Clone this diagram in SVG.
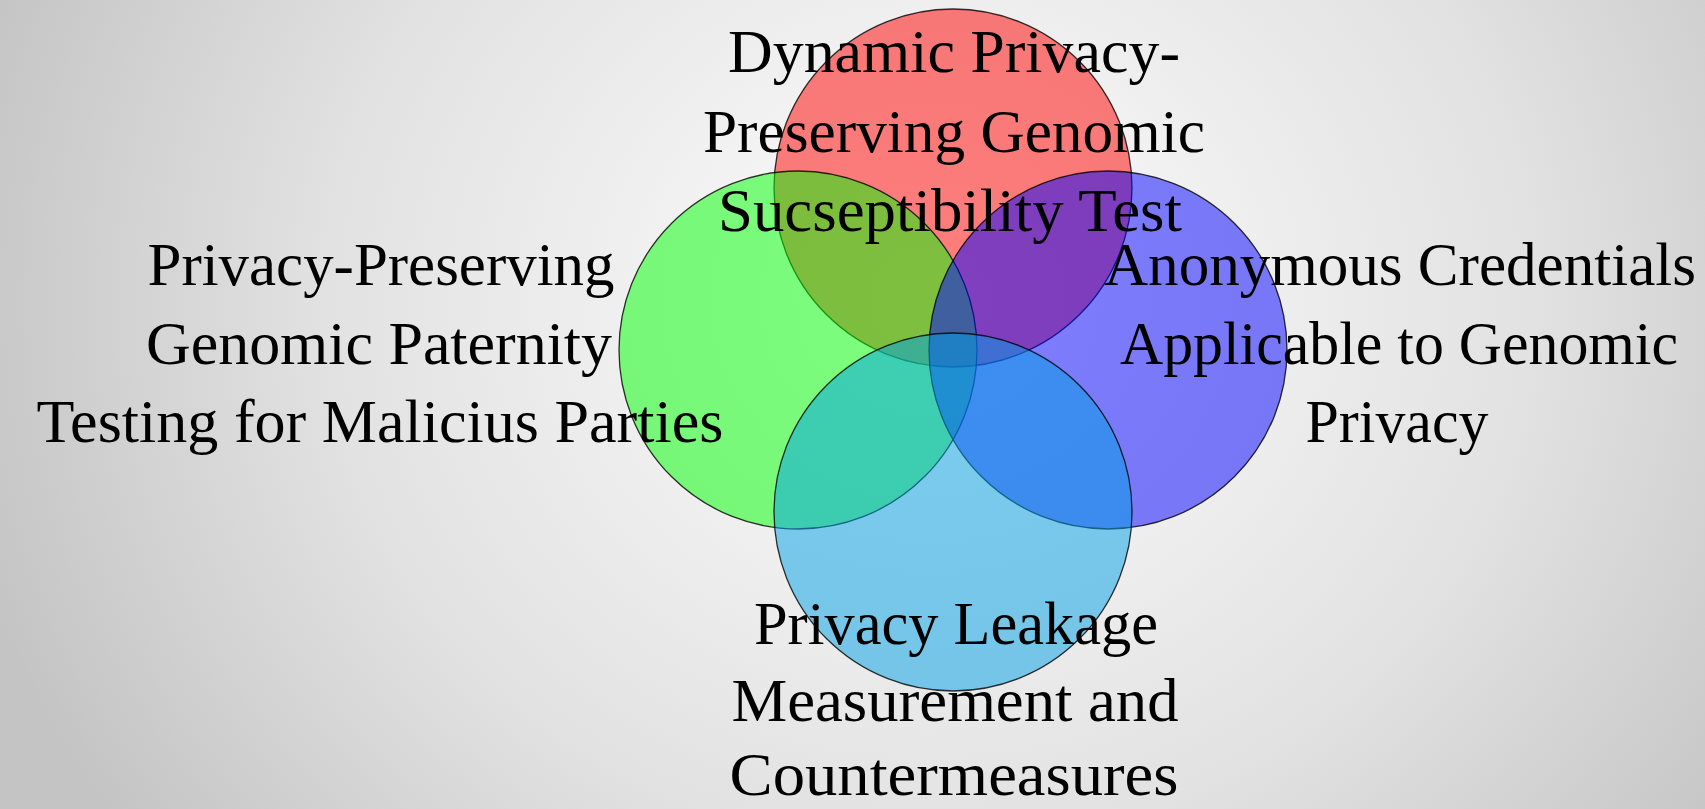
<svg xmlns="http://www.w3.org/2000/svg" width="1705" height="809" viewBox="0 0 1705 809">
  <defs>
    <radialGradient id="bg" gradientUnits="userSpaceOnUse" cx="930" cy="300" r="1000" gradientTransform="translate(930 300) scale(1 0.9) translate(-930 -300)">
      <stop offset="0" stop-color="#ffffff"/>
      <stop offset="0.12" stop-color="#f8f8f8"/>
      <stop offset="0.6" stop-color="#e2e2e2"/>
      <stop offset="1" stop-color="#c4c4c4"/>
    </radialGradient>
  </defs>
  <style>
    .set { fill-opacity: 0.5; stroke: #000; stroke-opacity: 0.8; stroke-width: 1.3; }
    .lbl { font-family: "Liberation Serif", "DejaVu Serif", serif; font-size: 62px; fill: #000; text-anchor: middle; }
  </style>

  <rect x="0" y="0" width="1705" height="809" fill="url(#bg)"/>

  <!-- four overlapping sets -->
  <g id="set-susceptibility"><circle class="set" cx="953" cy="188" r="179" fill="#ff0000"/></g>
  <g id="set-paternity"><circle class="set" cx="798" cy="350" r="179" fill="#00ff00"/></g>
  <g id="set-credentials"><circle class="set" cx="1108" cy="350" r="179" fill="#0000ff"/></g>
  <g id="set-leakage"><circle class="set" cx="953" cy="512" r="179" fill="#00a0e6"/></g>

  <!-- set captions -->
  <g id="label-susceptibility" class="lbl">
    <text x="954" y="72" textLength="452" lengthAdjust="spacingAndGlyphs">Dynamic Privacy-</text>
    <text x="954" y="152" textLength="502" lengthAdjust="spacingAndGlyphs">Preserving Genomic</text>
    <text x="950" y="231" textLength="464" lengthAdjust="spacingAndGlyphs">Sucseptibility Test</text>
  </g>
  <g id="label-paternity" class="lbl">
    <text x="381" y="285" textLength="467" lengthAdjust="spacingAndGlyphs">Privacy-Preserving</text>
    <text x="379" y="364" textLength="466" lengthAdjust="spacingAndGlyphs">Genomic Paternity</text>
    <text x="380" y="442" textLength="687" lengthAdjust="spacingAndGlyphs">Testing for Malicius Parties</text>
  </g>
  <g id="label-credentials" class="lbl">
    <text x="1400" y="285" textLength="592" lengthAdjust="spacingAndGlyphs">Anonymous Credentials</text>
    <text x="1399" y="364" textLength="558" lengthAdjust="spacingAndGlyphs">Applicable to Genomic</text>
    <text x="1397" y="442" textLength="183" lengthAdjust="spacingAndGlyphs">Privacy</text>
  </g>
  <g id="label-leakage" class="lbl">
    <text x="956" y="644" textLength="404" lengthAdjust="spacingAndGlyphs">Privacy Leakage</text>
    <text x="955" y="721" textLength="447" lengthAdjust="spacingAndGlyphs">Measurement and</text>
    <text x="954" y="795" textLength="449" lengthAdjust="spacingAndGlyphs">Countermeasures</text>
  </g>
</svg>
